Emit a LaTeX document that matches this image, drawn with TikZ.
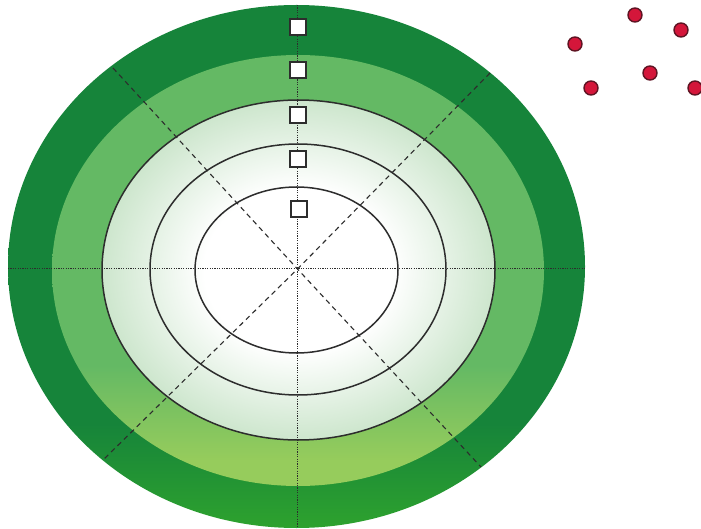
\documentclass[tikz,border=0pt]{standalone}
\usetikzlibrary{shapes.geometric}
\definecolor{gAtop}{RGB}{22,132,58}
\definecolor{gAbot}{RGB}{46,162,46}
\definecolor{gBtop}{RGB}{100,185,100}
\definecolor{gBbot}{RGB}{150,204,92}
\definecolor{gC}{RGB}{205,230,205}
\definecolor{lineC}{RGB}{45,45,45}
\definecolor{dotRed}{RGB}{212,22,58}
\definecolor{dotEdge}{RGB}{95,20,35}
\pgfdeclareverticalshading{ringA}{100bp}{color(0bp)=(gAbot); color(25bp)=(gAbot); color(35bp)=(gAtop); color(75bp)=(gAtop); color(100bp)=(gAtop)}
\pgfdeclareverticalshading{ringB}{100bp}{color(0bp)=(gBbot); color(25bp)=(gBbot); color(28bp)=(gBbot); color(33bp)=(gBbot!55!gBtop); color(39bp)=(gBtop); color(75bp)=(gBtop); color(100bp)=(gBtop)}
\pgfdeclareradialshading{coreC}{\pgfpoint{0bp}{0bp}}{color(0bp)=(white); color(12bp)=(white); color(25bp)=(gC); color(50bp)=(gC)}
\tikzset{
  ringline/.style={draw=lineC, line width=1.5pt},
  axisline/.style={draw=lineC, line width=1.1pt, dash pattern=on 1.2pt off 1.2pt},
  diagline/.style={draw=lineC, line width=1.1pt, dash pattern=on 5pt off 4pt},
  marker/.style={draw=lineC, fill=white, line width=2pt, minimum size=16pt, inner sep=0pt, rectangle},
  reddot/.style={circle, fill=dotRed, draw=dotEdge, line width=1.4pt, minimum size=14pt, inner sep=0pt}
}
\begin{document}
\begin{tikzpicture}[x=1pt,y=-1pt]
\useasboundingbox (0,0) rectangle (701,529);
% rings
\shade[shading=ringA] (296.5,266.5) ellipse [x radius=288.5, y radius=261.5];
\shade[shading=ringB] (298,270.5) ellipse [x radius=246, y radius=215.5];
\shade[shading=coreC] (298.5,270) ellipse [x radius=196.5, y radius=170];
\draw[ringline] (298.5,270) ellipse [x radius=196.5, y radius=170];
\draw[ringline] (298,269.5) ellipse [x radius=148, y radius=125.5];
\draw[ringline] (296.5,270) ellipse [x radius=101.5, y radius=83];
% axes
\coordinate (c) at (297.5,269);
\coordinate (hl) at (8,268.5);
\coordinate (hr) at (586,268.5);
\coordinate (vt) at (297.5,5);
\coordinate (vb) at (297.5,528);
\coordinate (d1) at (113,68);
\coordinate (d2) at (481,467);
\coordinate (d3) at (490,73);
\coordinate (d4) at (104,459);
\draw[axisline] (hl) -- (hr);
\draw[axisline] (vt) -- (vb);
\draw[diagline] (d1) -- (c) -- (d2);
\draw[diagline] (d3) -- (c) -- (d4);
% markers
\node[marker] (m1) at (297.5,27.5) {};
\node[marker] (m2) at (297.5,70.5) {};
\node[marker] (m3) at (297.5,115.5) {};
\node[marker] (m4) at (297.5,159) {};
\node[marker] (m5) at (299,209.5) {};
% red dots
\node[reddot] (r1) at (635,15) {};
\node[reddot] (r2) at (681,30) {};
\node[reddot] (r3) at (575,44) {};
\node[reddot] (r4) at (650,73) {};
\node[reddot] (r5) at (591,88) {};
\node[reddot] (r6) at (695,88) {};
\end{tikzpicture}
\end{document}
